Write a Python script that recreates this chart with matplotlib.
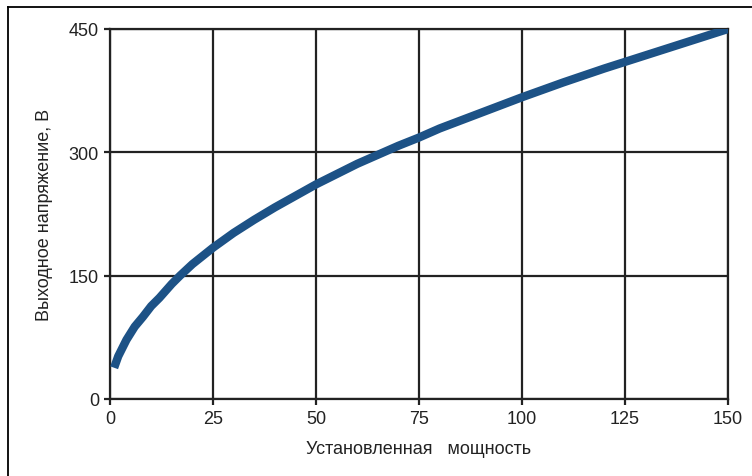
import matplotlib
matplotlib.use("Agg")
import matplotlib.pyplot as plt
from matplotlib.lines import Line2D

plt.rcParams['font.family'] = ['Liberation Sans', 'DejaVu Sans']

# Installed power vs. output voltage
power = [1, 2, 3, 4, 5, 6, 8, 10, 12, 15, 17, 20, 25, 30, 35, 40, 45, 50,
         60, 70, 75, 80, 90, 100, 110, 120, 125, 130, 140, 150]
voltage = [38, 52, 62, 72, 80, 88, 100, 113, 123, 140, 150, 164, 184, 202, 218,
           233, 247, 261, 286, 308, 318, 329, 348, 367, 385, 402, 410, 418, 434, 450]

x_ticks = [0, 25, 50, 75, 100, 125, 150]
y_ticks = [0, 150, 300, 450]

fig = plt.figure(figsize=(7.52, 4.77), dpi=100)
ax = fig.add_axes([110/752, 1 - 400/477, 618/752, 370/477])

ax.plot(power, voltage, color='#1d5286', lw=6.0, solid_capstyle='butt',
        solid_joinstyle='round', zorder=3)

ax.set_xlim(0, 150)
ax.set_ylim(0, 450)
ax.set_xticks(x_ticks)
ax.set_yticks(y_ticks)
ax.grid(True, color='#222222', lw=1.6)
ax.set_axisbelow(True)
for s in ax.spines.values():
    s.set_color('#222222')
    s.set_linewidth(1.6)
ax.tick_params(direction='out', length=4, width=1.6, color='#222222',
               labelsize=13, labelcolor='#222222', pad=4)

ax.set_xlabel('Установленная   мощность', fontsize=13, color='#222222', labelpad=9)
ax.set_ylabel('Выходное напряжение, В', fontsize=13, color='#222222', labelpad=11)

# outer frame edges
fig.add_artist(Line2D([8/752, 8/752], [0, 1 - 8/477], transform=fig.transFigure,
                      color='black', lw=1.3))
fig.add_artist(Line2D([8/752, 1], [1 - 8/477, 1 - 8/477], transform=fig.transFigure,
                      color='black', lw=1.3))

fig.savefig('out.png', dpi=100)
